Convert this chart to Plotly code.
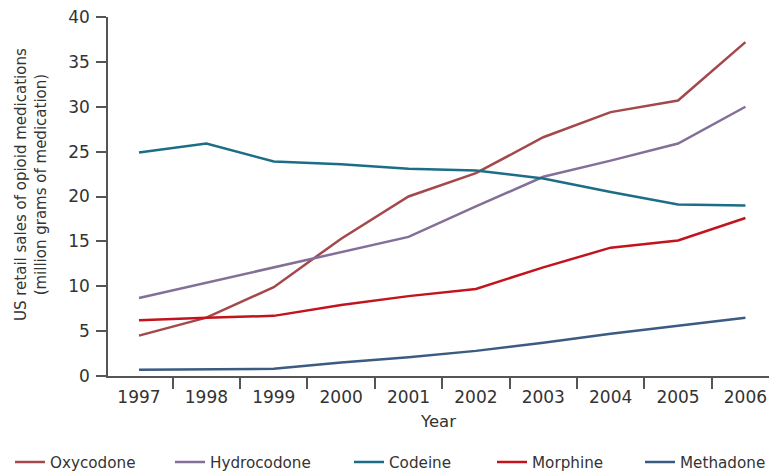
import plotly.graph_objects as go

years = ["1997", "1998", "1999", "2000", "2001", "2002", "2003", "2004", "2005", "2006"]
oxycodone = [4.5, 6.5, 9.9, 15.3, 20.0, 22.6, 26.6, 29.4, 30.7, 37.2]
hydrocodone = [8.7, 10.4, 12.1, 13.8, 15.5, 18.9, 22.2, 24.0, 25.9, 30.0]
codeine = [24.9, 25.9, 23.9, 23.6, 23.1, 22.9, 22.0, 20.5, 19.1, 19.0]
morphine = [6.2, 6.5, 6.7, 7.9, 8.9, 9.7, 12.1, 14.3, 15.1, 17.6]
methadone = [0.7, 0.75, 0.8, 1.5, 2.1, 2.8, 3.7, 4.7, 5.6, 6.5]

series = [
    ("Oxycodone", oxycodone, "#a4484c"),
    ("Hydrocodone", hydrocodone, "#846f98"),
    ("Codeine", codeine, "#1c6e86"),
    ("Morphine", morphine, "#c3131d"),
    ("Methadone", methadone, "#3b5b82"),
]
legend_x_px = [16, 176, 355, 498, 646]  # legend sample start (px)

FONT = "DejaVu Sans, sans-serif"
TXT = "#333333"
AX = "#555555"
W, H = 771, 472
L, R, T, B = 108, 2, 17, 96
PW, PH = W - L - R, H - T - B

fig = go.Figure()
legend_layout = {}
for i, (name, vals, col) in enumerate(series):
    lname = "legend" if i == 0 else f"legend{i+1}"
    fig.add_trace(go.Scatter(x=years, y=vals, mode="lines", name=name,
                             legend=lname,
                             line=dict(color=col, width=2.5)))
    legend_layout[lname] = dict(
        orientation="h", xref="container", yref="container",
        x=(legend_x_px[i] - 6) / W, y=10 / H,
        xanchor="left", yanchor="middle",
        font=dict(size=15.2, color=TXT), itemwidth=30,
        bgcolor="rgba(0,0,0,0)")

fig.add_annotation(
    text="US retail sales of opioid medications<br>(million grams of medication)",
    xref="paper", yref="paper", x=(31 - L) / PW, y=(H - B - 185) / PH,
    xanchor="center", yanchor="middle", textangle=-90, showarrow=False,
    font=dict(size=15, color=TXT, family=FONT))

fig.update_layout(
    width=W, height=H,
    margin=dict(l=L, r=R, t=T, b=B, autoexpand=False),
    paper_bgcolor="white", plot_bgcolor="white",
    font=dict(family=FONT, size=16, color=TXT),
    showlegend=True,
    xaxis=dict(type="category", range=[-0.46, 9.35], showgrid=False,
               automargin=False, ticklabeloverflow="allow",
               showline=True, linecolor=AX, linewidth=1.5,
               ticks="outside", tickson="boundaries", ticklen=11,
               tickcolor=AX, tickwidth=1.5, ticklabelstandoff=5,
               title=dict(text="Year", font=dict(size=16.5, color=TXT), standoff=9),
               tickfont=dict(size=17, color=TXT), zeroline=False),
    yaxis=dict(range=[0, 40], dtick=5, showgrid=False, zeroline=False,
               automargin=False, ticklabeloverflow="allow",
               showline=True, linecolor=AX, linewidth=1.5,
               ticks="outside", ticklen=10, tickcolor=AX, tickwidth=1.5,
               ticklabelstandoff=3,
               tickfont=dict(size=17, color=TXT)),
    **legend_layout,
)

fig.write_html(
    "out.html",
    config={"displayModeBar": False},
    post_script="document.body.style.margin='0';document.body.style.overflow='hidden';",
)
